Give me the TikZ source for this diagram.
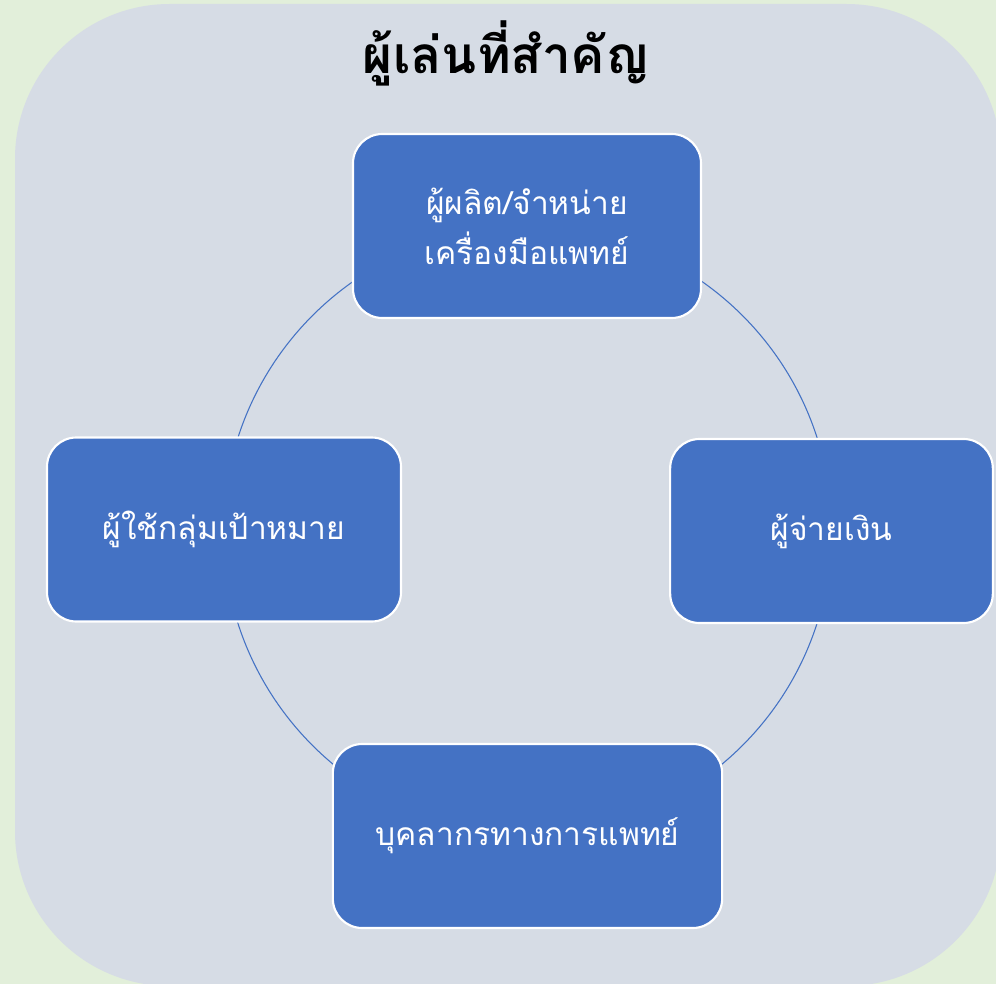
\documentclass[tikz,border=0pt]{standalone}
\usepackage{fontspec}
\newfontfamily\thaifont[Script=Thai]{Loma}
\definecolor{bggreen}{HTML}{E2EFDA}
\definecolor{panel}{HTML}{D6DCE5}
\definecolor{boxblue}{HTML}{4472C4}
\tikzset{
  playerbox/.style={draw=white, line width=1.6pt, fill=boxblue, rounded corners=22pt,
    text=white, align=center, inner sep=0pt,
    font=\thaifont\fontsize{23.8}{37.5}\selectfont, minimum height=138pt},
  titletext/.style={font=\thaifont\bfseries\fontsize{38.5}{42}\selectfont, text=black}
}
\begin{document}
\begin{tikzpicture}[x=0.75pt,y=-0.75pt]
\useasboundingbox (0,0) rectangle (996,984);
\clip (0,0) rectangle (996,984);
\fill[bggreen] (0,0) rectangle (996,984);
\fill[panel, rounded corners=116pt] (15,4) rectangle (1001,986);
\node[titletext] (title) at (506,53) {ผู้เล่นที่สำคัญ};
\coordinate (ctr) at (527.5,530.5);
\draw[boxblue, line width=0.8pt] (ctr) circle [radius=228pt];
\node[playerbox, minimum width=261pt] (maker) at (527,226) {ผู้ผลิต/จำหน่าย\\เครื่องมือแพทย์};
\node[playerbox, minimum width=265.5pt] (user) at (224,529.5) {ผู้ใช้กลุ่มเป้าหมาย};
\node[playerbox, minimum width=242pt] (payer) at (831.5,531) {ผู้จ่ายเงิน};
\node[playerbox, minimum width=292pt] (staff) at (527.5,836) {บุคลากรทางการแพทย์};
\end{tikzpicture}
\end{document}
